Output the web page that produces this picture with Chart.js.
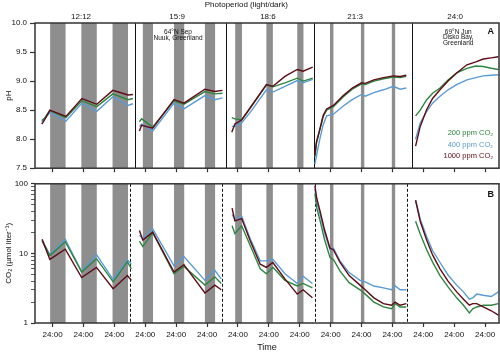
<!DOCTYPE html>
<html>
<head>
<meta charset="utf-8">
<script src="https://cdn.jsdelivr.net/npm/chart.js@4"></script>
<style>
  html, body { margin: 0; padding: 0; background: #fff; }
  #wrap { position: relative; width: 500px; height: 353px; }
  #phBox { position: absolute; left: 0; top: 0; width: 500px; height: 176px; }
  #co2Box { position: absolute; left: 0; top: 176px; width: 500px; height: 177px; }
</style>
</head>
<body>
<div id="wrap">
  <div id="phBox"><canvas id="phChart"></canvas></div>
  <div id="co2Box"><canvas id="co2Chart"></canvas></div>
</div>
<script>
// ---------------------------------------------------------------------------
// DATA (time in days, 24:00 = whole numbers)
// ---------------------------------------------------------------------------
const dayTicks = [0, 1, 2, 3, 4, 5, 6, 7, 8, 9, 10, 11, 12, 13, 14];
const phTicks = [7.5, 8.0, 8.5, 9.0, 9.5, 10.0];
const co2Ticks = [1, 2, 3, 4, 5, 6, 7, 8, 9, 10, 20, 30, 40, 50, 60, 70, 80, 90, 100];
const co2Labeled = [1, 10, 100];

// dark periods
const darkStart = [-0.08, 0.93, 1.94, 2.92, 3.93, 4.93, 5.91, 6.92, 7.92, 8.98, 9.98, 10.98];
const darkEnd   = [0.42, 1.43, 2.44, 3.25, 4.26, 5.26, 6.13, 7.13, 8.12, 9.09, 10.09, 11.09];

// experiment boundaries
const phDividers = [2.66, 5.61, 8.46, 11.64];
const co2Dividers = [2.50, 5.48, 8.48, 11.47];

const photoLabels = ['12:12', '15:9', '18:6', '21:3', '24:0'];
const photoLabelDays = [0.92, 4.03, 6.97, 9.79, 13.03];

const seriesNames = ['200 ppm CO\u2082', '400 ppm CO\u2082', '1000 ppm CO\u2082'];

// panel A: pH
const phDays = [
  -0.35, -0.25, -0.09, 0.43, 0.95, 1.43, 1.95, 2.44, 2.60, 2.70,
  2.81, 2.88, 3.24, 3.93, 4.25, 4.93, 5.25, 5.50, 5.60,
  5.80, 5.90, 6.12, 6.45, 6.92, 7.13, 7.52, 7.92, 8.11, 8.42, 8.47,
  8.49, 8.54, 8.65, 8.76, 8.87, 9.09, 9.41, 9.70, 10.00, 10.12, 10.40, 10.71, 11.03, 11.25, 11.45, 11.60,
  11.75, 11.90, 12.11, 12.30, 12.54, 12.80, 13.08, 13.41, 13.70, 13.94, 14.20, 14.43
];
const phGreen = [
  8.32, 8.37, 8.49, 8.37, 8.66, 8.56, 8.78, 8.68, 8.70, null,
  8.30, 8.35, 8.21, 8.66, 8.60, 8.82, 8.78, 8.79, null,
  8.37, 8.35, 8.33, 8.58, 8.93, 8.90, 8.97, 9.05, 9.00, 9.05, null,
  7.70, 7.93, 8.16, 8.39, 8.50, 8.56, 8.73, 8.86, 8.95, 8.94, 9.00, 9.04, 9.07, 9.06, 9.08, null,
  8.40, 8.50, 8.68, 8.79, 8.88, 9.02, 9.14, 9.22, 9.26, 9.25, 9.22, 9.20
];
const phBlue = [
  8.30, 8.36, 8.46, 8.31, 8.62, 8.48, 8.73, 8.58, 8.61, null,
  8.22, 8.26, 8.14, 8.62, 8.52, 8.75, 8.68, 8.71, null,
  8.22, 8.22, 8.28, 8.50, 8.85, 8.81, 8.91, 9.01, 8.97, 9.03, null,
  7.57, 7.71, 8.00, 8.25, 8.40, 8.43, 8.57, 8.68, 8.77, 8.74, 8.80, 8.85, 8.91, 8.86, 8.88, null,
  8.00, 8.28, 8.48, 8.62, 8.74, 8.85, 8.94, 9.02, 9.06, 9.09, 9.10, 9.11
];
const phRed = [
  8.26, 8.34, 8.50, 8.39, 8.70, 8.60, 8.84, 8.76, 8.77, null,
  8.14, 8.24, 8.19, 8.68, 8.62, 8.86, 8.82, 8.84, null,
  8.12, 8.26, 8.33, 8.58, 8.94, 8.91, 9.08, 9.20, 9.17, 9.24, null,
  7.72, 7.95, 8.17, 8.41, 8.52, 8.58, 8.75, 8.88, 8.97, 8.96, 9.02, 9.06, 9.09, 9.08, 9.10, null,
  7.88, 8.22, 8.51, 8.70, 8.85, 9.00, 9.14, 9.28, 9.33, 9.38, 9.40, 9.42
];

// panel B: CO2 (umol/liter)
const co2Days = [
  -0.34, -0.09, 0.41, 0.94, 1.42, 1.96, 2.42, 2.55, 2.62,
  2.81, 2.92, 3.24, 3.93, 4.25, 4.93, 5.25, 5.46, 5.55,
  5.81, 5.90, 6.12, 6.39, 6.72, 6.92, 7.13, 7.52, 7.92, 8.11, 8.41, 8.45,
  8.49, 8.55, 8.66, 8.80, 8.98, 9.09, 9.30, 9.60, 9.95, 10.12, 10.40, 10.71, 10.97, 11.09, 11.25, 11.45, 11.60,
  11.75, 11.90, 12.11, 12.30, 12.54, 12.80, 13.08, 13.30, 13.49, 13.60, 13.73, 13.94, 14.20, 14.43
];
const co2Green = [
  15.0, 9.3, 14.7, 5.4, 8.4, 3.9, 7.6, 6.0, null,
  15.0, 12.6, 19.8, 5.1, 6.5, 3.5, 4.6, 3.7, null,
  25.0, 19.2, 25.0, 13.2, 6.0, 5.1, 6.3, 4.1, 3.4, 3.7, 3.2, null,
  72, 45, 29.3, 16, 8.7, 8.2, 5.6, 3.8, 3.0, 2.6, 2.0, 1.7, 1.6, 1.9, 1.7, 1.7, null,
  29, 19, 11.3, 7.5, 4.8, 3.3, 2.3, 1.8, 1.4, 1.6, 1.7, 1.8, 1.8, 1.9
];
const co2Blue = [
  15.5, 9.6, 15.9, 5.5, 9.6, 4.2, 8.1, 7.0, null,
  18.2, 16.4, 22.5, 6.6, 9.0, 4.1, 5.7, 4.3, null,
  36.2, 30.9, 34.3, 16.5, 7.8, 7.8, 8.2, 5.1, 3.7, 4.7, 3.7, null,
  84, 55, 36.2, 20, 11.3, 11.9, 7.8, 5.3, 4.1, 3.9, 3.4, 3.2, 3.0, 3.4, 3.0, 3.0, null,
  58, 31, 17.3, 11, 7.4, 4.9, 3.5, 2.8, 2.2, 2.3, 2.6, 2.5, 2.4, 2.8
];
const co2Red = [
  16.0, 8.2, 11.5, 4.5, 6.3, 3.1, 4.8, 4.1, null,
  21.3, 15.5, 20.2, 5.4, 6.9, 2.7, 3.5, 3.0, null,
  44.8, 29.3, 31.6, 15.5, 7.0, 6.3, 7.4, 4.3, 2.6, 3.0, 2.3, null,
  94, 62, 40.2, 22, 11.9, 11.3, 7.5, 4.8, 3.5, 3.0, 2.3, 1.9, 1.8, 2.0, 1.8, 1.9, null,
  58, 29, 15.5, 9.5, 6.0, 4.0, 2.8, 2.2, 1.8, 1.9, 1.9, 1.7, 1.5, 1.3
];

// ---------------------------------------------------------------------------
// STYLE
// ---------------------------------------------------------------------------
const FONT = "'Liberation Sans', Arial, sans-serif";
const INK = '#333';
const GREEN = '#2e8540';
const BLUE = '#5b9bd5';
const RED = '#5e0b16';
const BAND = '#8e8e8e';
const X_MIN = -0.57, X_MAX = 14.45;

Chart.defaults.font.family = FONT;
Chart.defaults.color = '#111';

function toPoints(days, vals) {
  return days.map((d, i) => ({ x: d, y: vals[i] }));
}

function lineSet(label, days, vals, color, order) {
  return {
    label: label,
    data: toPoints(days, vals),
    borderColor: color,
    backgroundColor: color,
    borderWidth: 1.4,
    pointRadius: 0,
    tension: 0,
    spanGaps: false,
    order: order
  };
}

// shading, dividers, frame and text labels
const panelDecor = {
  id: 'panelDecor',
  beforeDatasetsDraw(chart, args, opts) {
    const { ctx, chartArea: a } = chart;
    const x = chart.scales.x;
    ctx.save();
    ctx.fillStyle = BAND;
    darkStart.forEach((s, i) => {
      const x0 = x.getPixelForValue(s);
      const x1 = x.getPixelForValue(darkEnd[i]);
      ctx.fillRect(x0, a.top, x1 - x0, a.bottom - a.top);
    });
    ctx.strokeStyle = '#111';
    ctx.lineWidth = 1;
    ctx.setLineDash(opts.dash || []);
    opts.dividers.forEach(d => {
      const px = Math.round(x.getPixelForValue(d)) + 0.5;
      ctx.beginPath();
      ctx.moveTo(px, a.top);
      ctx.lineTo(px, a.bottom);
      ctx.stroke();
    });
    ctx.restore();
  },
  afterDraw(chart, args, opts) {
    const { ctx, chartArea: a } = chart;
    const x = chart.scales.x;
    const y = chart.scales.y;
    ctx.save();
    ctx.strokeStyle = INK;
    ctx.lineWidth = 1.5;
    ctx.strokeRect(a.left, a.top, a.right - a.left, a.bottom - a.top);
    ctx.textBaseline = 'middle';
    (opts.texts || []).forEach(t => {
      ctx.font = (t.bold ? 'bold ' : '') + t.size + 'px ' + FONT;
      ctx.fillStyle = t.color || '#111';
      ctx.textAlign = t.align || 'center';
      const px = x.getPixelForValue(t.d);
      const py = t.v !== undefined ? y.getPixelForValue(t.v) : a.top + t.dy;
      ctx.fillText(t.text, px, py);
    });
    ctx.restore();
  }
};

function xScale(showLabels, height) {
  return {
    type: 'linear',
    min: X_MIN,
    max: X_MAX,
    afterBuildTicks: s => { s.ticks = dayTicks.map(v => ({ value: v })); },
    afterFit: s => { s.height = height; },
    grid: { drawOnChartArea: false, drawTicks: true, tickLength: 4, tickColor: INK, tickWidth: 1.2 },
    border: { display: false },
    ticks: {
      display: showLabels,
      autoSkip: false,
      maxRotation: 0,
      padding: 3,
      font: { size: 8 },
      callback: () => '24:00'
    },
    title: {
      display: showLabels,
      text: 'Time',
      font: { size: 9 },
      padding: { top: 0, bottom: 0 }
    }
  };
}

// ---------------------------------------------------------------------------
// PANEL A: pH
// ---------------------------------------------------------------------------
const phTexts = [
  { text: 'Photoperiod (light/dark)', d: 6.27, dy: -18, size: 8 },
  { text: 'A', d: 14.18, v: 9.85, size: 9, bold: true },
  { text: '64\u00B0N Sep', d: 4.06, v: 9.85, size: 6.5 },
  { text: 'Nuuk, Greenland', d: 4.06, v: 9.74, size: 6.5 },
  { text: '69\u00B0N Jun', d: 13.13, v: 9.85, size: 6.5 },
  { text: 'Disko Bay,', d: 13.13, v: 9.75, size: 6.5 },
  { text: 'Greenland', d: 13.13, v: 9.65, size: 6.5 },
  { text: seriesNames[0], d: 14.26, v: 8.11, size: 7.5, color: GREEN, align: 'right' },
  { text: seriesNames[1], d: 14.26, v: 7.90, size: 7.5, color: BLUE, align: 'right' },
  { text: seriesNames[2], d: 14.26, v: 7.71, size: 7.5, color: RED, align: 'right' }
];
photoLabels.forEach((lab, i) => {
  phTexts.push({ text: lab, d: photoLabelDays[i], dy: -6, size: 8 });
});

new Chart(document.getElementById('phChart'), {
  type: 'line',
  data: {
    datasets: [
      lineSet(seriesNames[0], phDays, phGreen, GREEN, 1),
      lineSet(seriesNames[1], phDays, phBlue, BLUE, 2),
      lineSet(seriesNames[2], phDays, phRed, RED, 0)
    ]
  },
  options: {
    responsive: true,
    maintainAspectRatio: false,
    animation: false,
    layout: { padding: { top: 23, right: 1, left: 0, bottom: 0 } },
    plugins: {
      legend: { display: false },
      tooltip: { enabled: false },
      panelDecor: { dividers: phDividers, dash: [], texts: phTexts }
    },
    scales: {
      x: xScale(false, 7),
      y: {
        type: 'linear',
        min: 7.5,
        max: 10,
        afterBuildTicks: s => { s.ticks = phTicks.map(v => ({ value: v })); },
        afterFit: s => { s.width = 35; },
        grid: { drawOnChartArea: false, drawTicks: true, tickLength: 5, tickColor: INK, tickWidth: 1.2 },
        border: { display: false },
        ticks: { font: { size: 8 }, padding: 3, callback: v => v.toFixed(1) },
        title: { display: true, text: 'pH', font: { size: 8 }, padding: { top: 4, bottom: 0 } }
      }
    }
  },
  plugins: [panelDecor]
});

// ---------------------------------------------------------------------------
// PANEL B: CO2
// ---------------------------------------------------------------------------
const co2Texts = [
  { text: 'B', d: 14.18, v: 70, size: 9, bold: true }
];

new Chart(document.getElementById('co2Chart'), {
  type: 'line',
  data: {
    datasets: [
      lineSet(seriesNames[0], co2Days, co2Green, GREEN, 1),
      lineSet(seriesNames[1], co2Days, co2Blue, BLUE, 2),
      lineSet(seriesNames[2], co2Days, co2Red, RED, 0)
    ]
  },
  options: {
    responsive: true,
    maintainAspectRatio: false,
    animation: false,
    layout: { padding: { top: 2, right: 1, left: 0, bottom: 0 } },
    plugins: {
      legend: { display: false },
      tooltip: { enabled: false },
      panelDecor: { dividers: co2Dividers, dash: [3, 2], texts: co2Texts }
    },
    scales: {
      x: xScale(true, 30),
      y: {
        type: 'logarithmic',
        min: 1,
        max: 100,
        afterBuildTicks: s => { s.ticks = co2Ticks.map(v => ({ value: v })); },
        afterFit: s => { s.width = 35; },
        grid: {
          drawOnChartArea: false,
          drawTicks: true,
          tickLength: 4,
          tickColor: INK,
          tickWidth: c => (co2Labeled.includes(c.tick && c.tick.value) ? 1.2 : 0.8)
        },
        border: { display: false },
        ticks: {
          autoSkip: false,
          font: { size: 8 },
          padding: 3,
          callback: v => (co2Labeled.includes(v) ? String(v) : '')
        },
        title: {
          display: true,
          text: 'CO\u2082 (\u00B5mol liter\u207B\u00B9)',
          font: { size: 8 },
          padding: { top: 4, bottom: 0 }
        }
      }
    }
  },
  plugins: [panelDecor]
});
</script>
</body>
</html>
